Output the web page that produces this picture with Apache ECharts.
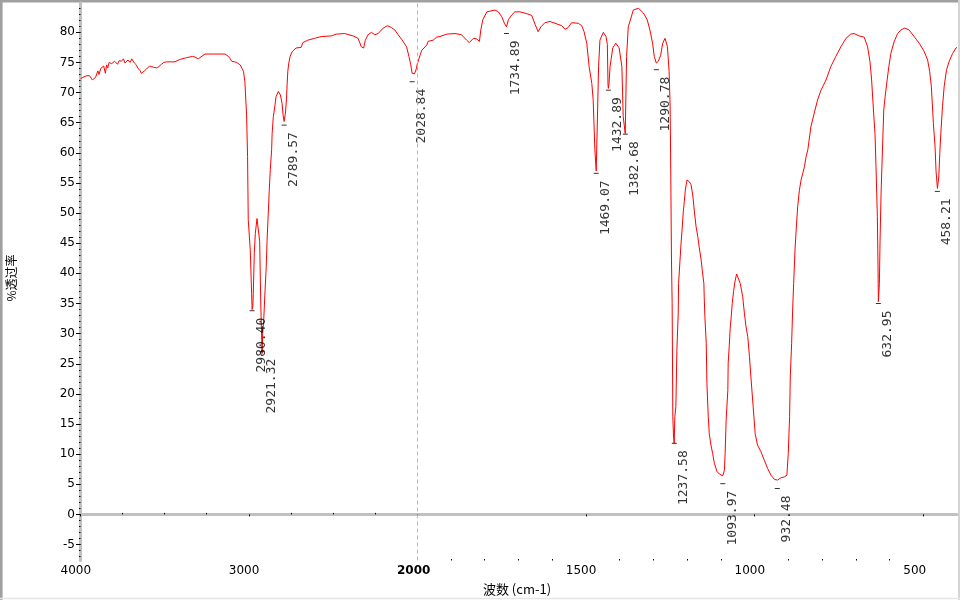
<!DOCTYPE html>
<html><head><meta charset="utf-8">
<script src="https://cdn.jsdelivr.net/npm/echarts@6/dist/echarts.min.js"></script>
<style>html,body{margin:0;padding:0;background:#fff;}#c{width:960px;height:600px;}</style>
</head><body><div id="c"></div>
<script>
// ---- data ----
const wavenumber = [4000,3996,3980,3962,3946,3930,3920,3911,3897,3890,3880,3870,3862,3852,3845,3838,3830,3815,3797,3780,3770,3757,3745,3735,3718,3705,3695,3688,3680,3668,3660,3652,3645,3638,3632,3620,3608,3598,3590,3578,3565,3548,3535,3519,3505,3489,3460,3439,3409,3369,3334,3320,3310,3300,3290,3260,3211,3141,3121,3110,3101,3085,3071,3060,3051,3040,3031,3023,3013,3007,3003,2996,2991,2986,2983,2980,2976,2973,2967,2961,2951,2943,2935,2929,2921,2917,2911,2903,2896,2891,2884,2878,2872,2864,2861,2854,2844,2838,2824,2812,2802,2796,2790,2782,2776,2772,2768,2762,2754,2742,2719,2689,2678,2649,2609,2569,2510,2480,2430,2380,2350,2331,2317,2307,2291,2271,2251,2231,2201,2176,2152,2132,2112,2090,2062,2048,2037,2029,2015,2003,2000,
1991,1986,1971,1967,1952,1942,1932,1912,1887,1868,1853,1845,1833,1823,1815,1811,1805,1793,1769,1759,1749,1741,1735,1729,1719,1710,1695,1675,1660,1650,1641,1633,1621,1606,1591,1571,1561,1552,1542,1522,1512,1505,1497,1490,1482,1478,1473,1469,1466,1462,1458,1448,1440,1436,1434,1433,1431,1428,1420,1411,1401,1393,1389,1383,1379,1374,1359,1344,1329,1318,1310,1302,1297,1291,1285,1278,1272,1265,1258,1253,1250,1248,1246,1244,1242,1240,1238,1236,1233,1230,1226,1225,1221,1218,1214,1211,1208,1205,1200,1193,1188,1183,1178,1173,1168,1164,1158,1155,1150,1149,1147,1143,1141,1137,1134,1129,1124,1119,1111,1104,1094,1089,1087,1084,1079,1078,1075,1072,1069,1066,1062,1058,1053,1048,1042,1035,1030,1025,1020,1015,1010,1004,998,991,981,971,961,951,941,932,921,912,904,900,896,894,890,887,884,880,876,872,867,862,857,852,847,842,833,823,813,803,788,774,759,744,729,715,705,690,675,665,658,653,647,643,640,636,634,633,630,628,625,620,617,613,607,602,596,586,576,566,555,542,527,512,497,487,481,476,470,465,462,458,454,451,448,443,438,431,423,413,403,400];
const transmittance = [72.3,72.4,72.6,72.8,72.8,72.1,72.3,72.5,73.6,73.0,74.0,73.8,74.4,73.2,74.6,74.1,75.0,74.8,75.2,74.7,75.3,75.2,75.6,74.9,75.4,75.0,75.6,75.3,74.9,74.6,74.1,74.4,73.6,73.2,73.5,73.6,73.9,73.6,74.4,74.3,74.2,74.1,74.3,74.7,75.0,75.1,75.1,75.1,75.5,75.8,76.0,75.9,75.7,75.6,75.9,76.4,76.4,76.4,76.0,75.6,75.2,75.1,75.0,74.8,74.6,74.0,73.5,71.8,66.3,59.4,48.9,48.9,43.9,43.9,36.7,34.0,34.5,36.7,43.4,46.6,49.1,48.9,45.3,35.6,26.7,30.1,32.3,37.2,41.1,45.5,50.0,53.8,57.2,60.5,63.2,66.0,67.9,69.3,70.2,69.6,68.2,66.3,65.2,66.6,68.8,71.3,73.5,74.9,76.0,76.8,77.4,77.5,78.3,78.7,79.0,79.3,79.4,79.7,79.8,79.4,79.0,77.6,77.4,78.7,79.6,80.0,79.6,79.8,80.7,81.1,80.8,80.4,79.6,78.8,77.6,76.0,74.6,73.2,73.1,74.0,74.6,
76.2,77.0,77.9,78.5,78.7,79.2,79.3,79.7,79.8,79.6,78.7,78.3,79.0,78.9,78.5,80.4,82.1,83.4,83.7,83.4,82.6,81.5,80.9,82.1,82.9,83.4,83.4,83.1,82.8,81.3,80.1,80.9,81.6,81.8,81.5,81.1,80.5,80.8,81.6,81.5,81.1,80.1,78.2,74.3,71.5,68.8,60.5,57.0,64.3,74.3,78.7,80.0,79.3,78.0,71.2,70.7,71.5,74.3,77.4,78.2,77.4,74.3,66.0,63.2,76.0,80.9,83.7,84.0,83.2,82.1,80.4,78.2,76.0,74.9,75.2,76.2,78.2,79.0,77.6,73.5,67.7,56.0,42.2,35.0,16.2,13.0,11.8,16.2,17.9,27.3,33.4,38.3,41.9,44.7,47.7,50.2,51.9,53.8,55.5,55.2,54.7,53.0,50.2,47.7,46.1,44.4,42.2,40.6,38.3,36.1,32.8,28.4,21.7,16.2,13.4,11.5,10.1,8.5,7.1,6.7,6.4,7.4,10.1,15.7,20.6,25.1,27.8,30.9,32.8,35.0,37.0,38.6,39.9,39.6,38.3,36.1,33.4,31.1,29.5,26.2,22.3,17.9,13.4,11.5,10.4,9.0,7.6,6.5,5.8,5.7,6.1,6.2,6.5,10.1,16.2,22.8,28.4,33.9,38.3,43.9,47.7,51.1,53.8,55.5,56.6,57.7,59.4,60.5,64.3,66.6,68.8,70.4,72.1,74.3,76.0,77.6,79.0,79.7,79.8,79.4,79.2,77.6,75.2,72.1,66.6,63.2,57.7,49.4,41.1,35.3,38.3,45.5,53.3,62.1,67.1,69.3,72.1,74.3,76.5,78.5,79.8,80.4,80.7,80.4,79.3,78.2,76.8,75.4,73.5,71.0,64.9,61.0,56.9,54.1,56.0,59.9,63.2,67.7,71.0,73.8,75.2,76.5,77.4,77.5];

const peakWavenumber = [2980.40, 2921.32, 2789.57, 2028.84, 1734.89, 1469.07, 1432.89, 1382.68, 1290.78, 1237.58, 1093.97, 932.48, 632.95, 458.21];
const peakMarkT      = [33.8, 27.0, 64.6, 71.8, 79.8, 56.6, 70.4, 63.1, 73.8, 11.8, 5.1, 4.3, 35.0, 53.6];

const xLabelsHigh = [4000, 3000];
const xMinorHigh  = [3750, 3500, 3250, 2750, 2500, 2250];
const xLabelsLow  = [2000, 1500, 1000, 500];
const xMinorLow   = [1900, 1800, 1700, 1600, 1400, 1300, 1200, 1100, 900, 800, 700, 600];
const yLabels     = [-5, 0, 5, 10, 15, 20, 25, 30, 35, 40, 45, 50, 55, 60, 65, 70, 75, 80];
const yMin = -7.65, yMax = 84.9;
const xTitle = '波数 (cm-1)';
const yTitle = '%透过率';

// ---- build ----
const yMinor = [];
for (let v = -7; v <= 84; v++) yMinor.push(v);

const high = [], low = [];
for (let i = 0; i < wavenumber.length; i++) {
  const p = [wavenumber[i], transmittance[i]];
  if (wavenumber[i] >= 2000) high.push(p);
  if (wavenumber[i] <= 2000) low.push(p);
}
const peaksHigh = [], peaksLow = [];
for (let i = 0; i < peakWavenumber.length; i++) {
  const p = [peakWavenumber[i], peakMarkT[i]];
  (peakWavenumber[i] >= 2000 ? peaksHigh : peaksLow).push(p);
}

const lblFont = {color: '#000', fontFamily: 'DejaVu Sans', fontSize: 12};
const axisLineStyle = {show: true, lineStyle: {color: '#c0c0c0', width: 3}};

function xMain(grid, min, max, labels) {
  return {
    gridIndex: grid, type: 'value', min: min, max: max, inverse: true, position: 'bottom',
    axisLine: axisLineStyle,
    axisTick: {show: true, customValues: labels, length: 2, lineStyle: {color: '#000', width: 1}},
    axisLabel: Object.assign({show: true, customValues: labels, margin: 4, align: 'left', padding: [0, 0, 0, -20],
      formatter: v => v === 2000 ? '{b|2000}' : String(v),
      rich: {b: {fontWeight: 'bold', fontFamily: 'DejaVu Sans', fontSize: 12, color: '#000'}}}, lblFont),
    splitLine: {show: false}
  };
}
function xMinor(grid, min, max, vals) {
  return {
    gridIndex: grid, type: 'value', min: min, max: max, inverse: true, position: 'bottom', offset: 0,
    axisLine: {show: false},
    axisTick: {show: true, customValues: vals, length: 1.5, inside: true, lineStyle: {color: '#000', width: 1}},
    axisLabel: {show: false}, splitLine: {show: false}
  };
}

const labelCfg = {
  show: true, position: [12, 7.5], rotate: 90, align: 'right', verticalAlign: 'middle',
  formatter: p => p.value[0].toFixed(2),
  color: '#000', fontFamily: 'DejaVu Sans Mono', fontSize: 13
};

const option = {
  animation: false,
  backgroundColor: '#fff',
  grid: [
    {left: 80.5, top: 2.8, width: 336.5, height: 557.7},
    {left: 417, top: 2.8, width: 540, height: 557.7}
  ],
  xAxis: [
    xMain(0, 2000, 4000, xLabelsHigh),
    xMinor(0, 2000, 4000, xMinorHigh),
    xMain(1, 400, 2000, xLabelsLow),
    xMinor(1, 400, 2000, xMinorLow)
  ],
  yAxis: [
    {gridIndex: 0, type: 'value', min: yMin, max: yMax, position: 'left',
     axisLine: axisLineStyle,
     axisTick: {show: true, customValues: yLabels, length: 4.5, lineStyle: {color: '#000', width: 1}},
     axisLabel: Object.assign({show: true, customValues: yLabels, margin: 5.5}, lblFont),
     splitLine: {show: false}},
    {gridIndex: 0, type: 'value', min: yMin, max: yMax, position: 'left', offset: 0,
     axisLine: {show: false},
     axisTick: {show: true, customValues: yMinor, length: 1.5, lineStyle: {color: '#000', width: 1}},
     axisLabel: {show: false}, splitLine: {show: false}},
    {gridIndex: 1, type: 'value', min: yMin, max: yMax, show: false}
  ],
  series: [
    {type: 'line', xAxisIndex: 0, yAxisIndex: 0, data: high, showSymbol: false, symbol: 'none',
     lineStyle: {color: '#ff0000', width: 1}, z: 3,
     markLine: {silent: true, symbol: 'none', label: {show: false},
       lineStyle: {color: '#b8b8b8', type: [4, 3], width: 1}, data: [{xAxis: 2000}]}},
    {type: 'line', xAxisIndex: 2, yAxisIndex: 2, data: low, showSymbol: false, symbol: 'none',
     lineStyle: {color: '#ff0000', width: 1}, z: 3},
    {type: 'scatter', xAxisIndex: 0, yAxisIndex: 0, data: peaksHigh, symbol: 'rect', symbolSize: [5, 1],
     itemStyle: {color: '#000'}, label: labelCfg, z: 4},
    {type: 'scatter', xAxisIndex: 2, yAxisIndex: 2, data: peaksLow, symbol: 'rect', symbolSize: [5, 1],
     itemStyle: {color: '#000'}, label: labelCfg, z: 4}
  ],
  graphic: [
    {type: 'line', shape: {x1: 1.3, y1: 0, x2: 1.3, y2: 600}, style: {stroke: '#a0a0a0', lineWidth: 2.6}, silent: true},
    {type: 'line', shape: {x1: 0, y1: 1.3, x2: 960, y2: 1.3}, style: {stroke: '#a0a0a0', lineWidth: 2.6}, silent: true},
    {type: 'line', shape: {x1: 959, y1: 0, x2: 959, y2: 600}, style: {stroke: '#d4d4d4', lineWidth: 2}, silent: true},
    {type: 'line', shape: {x1: 0, y1: 598.5, x2: 960, y2: 598.5}, style: {stroke: '#e6e6e6', lineWidth: 1.5}, silent: true},
    {type: 'text', x: 11, y: 278, rotation: Math.PI / 2, silent: true,
     style: {text: yTitle, fill: '#000', font: '12px "Noto Sans CJK SC"', align: 'center', verticalAlign: 'middle'}},
    {type: 'text', x: 517, y: 589, silent: true,
     style: {text: xTitle, fill: '#000', font: '13px "Noto Sans CJK SC"', align: 'center', verticalAlign: 'middle'}}
  ]
};

const chart = echarts.init(document.getElementById('c'), null, {renderer: 'canvas'});
chart.setOption(option);
</script>
</body></html>
